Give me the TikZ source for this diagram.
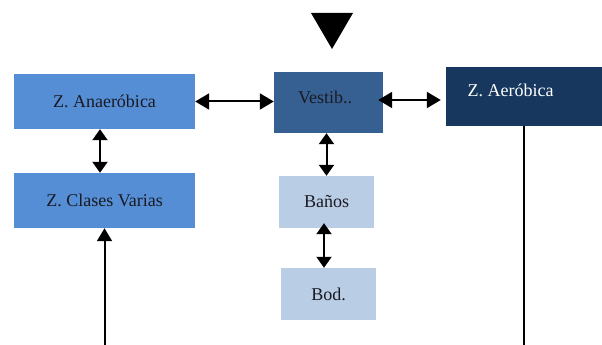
\documentclass[tikz,border=0pt]{standalone}
\usepackage{fontspec}
\setmainfont{Liberation Serif}
\usetikzlibrary{arrows.meta}

\definecolor{zonemid}{HTML}{558ED5}
\definecolor{zonedark}{HTML}{376092}
\definecolor{zonenavy}{HTML}{17375E}
\definecolor{zonelight}{HTML}{B9CDE5}
\definecolor{inktext}{HTML}{1A1A22}

\begin{document}
\begin{tikzpicture}[
    x=1pt, y=1pt,
    zone/.style={rectangle, inner sep=0pt, text=inktext, font=\fontsize{18}{20}\selectfont},
    both/.style={{Triangle[length=14pt, width=16pt]}-{Triangle[length=14pt, width=16pt]}, line width=2pt},
    bothsmall/.style={{Triangle[length=11pt, width=15pt]}-{Triangle[length=11pt, width=15pt]}, line width=2pt},
    into/.style={-{Triangle[length=13pt, width=15pt]}, line width=2pt},
    plain/.style={line width=2pt}
]
    \useasboundingbox (0,0) rectangle (602,345);

    \node[zone, fill=zonemid, minimum width=181pt, minimum height=55pt] (anaer) at (104.5,243.5) {Z. Anaeróbica};
    \node[zone, fill=zonemid, minimum width=181pt, minimum height=55pt] (clases) at (104.5,144.5) {Z. Clases Varias};
    \node[zone, fill=zonedark, minimum width=109pt, minimum height=61pt,
        label={[zone, shift={(-3.5pt,5pt)}]center:Vestib..}] (vest) at (328.5,242.5) {};
    \node[zone, fill=zonenavy, minimum width=156pt, minimum height=59pt,
        label={[zone, text=white, shift={(-13.5pt,6.5pt)}]center:Z. Aeróbica}] (aero) at (524,248.5) {};
    \node[zone, fill=zonelight, minimum width=95pt, minimum height=52pt] (banos) at (326.5,143) {Baños};
    \node[zone, fill=zonelight, minimum width=95pt, minimum height=52pt] (bod) at (328.5,51) {Bod.};

    \fill (311,332) -- (353,332) -- (332,296) -- cycle;

    \coordinate (vestout) at ([xshift=-5pt,yshift=2.5pt]vest.east);
    \coordinate (inleft) at (104.5,0);
    \coordinate (outright) at (524,0);

    \draw[both] (anaer.east) -- (anaer.east -| vest.west);
    \draw[both] (vestout) -- ([xshift=-5pt]vestout -| aero.west);
    \draw[bothsmall] ([xshift=-4.5pt]anaer.south) -- ([xshift=-4.5pt]clases.north);
    \draw[bothsmall] (vest.south -| banos.north) -- (banos.north);
    \draw[bothsmall] ([xshift=-2.5pt,yshift=5pt]banos.south) -- ([xshift=-2.5pt]banos.south |- bod.north);
    \draw[into] (inleft) -- (clases.south);
    \draw[plain] (aero.south) -- (outright);
\end{tikzpicture}
\end{document}
